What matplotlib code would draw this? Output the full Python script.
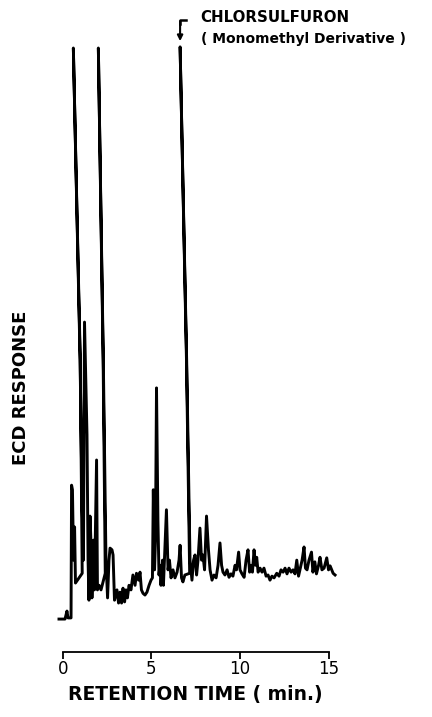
import matplotlib.pyplot as plt

# chromatogram trace (pen-arc slant kept,
# so the big peaks rise and fall along the same leaning stroke)
time_min = [
    -0.21, 0.13, 0.24, 0.30, 0.47, 0.50, 0.55, 0.61, 0.67, 0.72, 1.10,
    0.99, 0.60, 0.98, 1.09, 1.17, 1.23, 1.37, 1.43, 1.48, 1.54, 1.60, 1.65,
    1.74, 1.79, 1.91, 1.96, 2.05, 2.16, 2.40,
    2.28, 2.01, 2.29, 2.44, 2.53, 2.61, 2.67, 2.78, 2.84, 2.92, 3.06, 3.15,
    3.23, 3.32, 3.40, 3.49, 3.57, 3.65, 3.74, 3.85, 3.96, 4.08, 4.16,
    4.28, 4.36, 4.44, 4.53, 4.64, 4.75, 4.87, 4.98, 5.06, 5.11, 5.18,
    5.23, 5.29, 5.37, 5.43, 5.49, 5.54, 5.63, 5.68, 5.77, 5.85, 5.94,
    6.02, 6.11, 6.22, 6.33, 6.45, 6.56, 6.62, 6.70, 6.78, 6.89, 7.16,
    6.98, 6.62, 6.99, 7.18, 7.29, 7.38, 7.46, 7.55, 7.63, 7.74, 7.83, 7.91,
    8.00, 8.11, 8.22, 8.31, 8.42, 8.53, 8.65, 8.76, 8.87, 8.96, 9.04,
    9.15, 9.27, 9.38, 9.49, 9.60, 9.72, 9.80, 9.92, 10.00, 10.11, 10.23,
    10.34, 10.45, 10.54, 10.62, 10.70, 10.79, 10.87, 10.94, 11.02, 11.13,
    11.24, 11.35, 11.47, 11.58, 11.69, 11.80, 11.92, 12.07, 12.20, 12.31,
    12.43, 12.54, 12.65, 12.76, 12.88, 12.99, 13.10, 13.20, 13.30, 13.38,
    13.50, 13.61, 13.69, 13.78, 13.89, 14.03, 14.11, 14.22, 14.31, 14.43,
    14.51, 14.62, 14.74, 14.89, 14.99, 15.08, 15.25, 15.36,
]
response = [
    0.0, 0.0, 1.4, 0.2, 0.2, 23.4, 22.6, 10.3, 16.1, 6.3, 8.0,
    45.3, 99.8, 45.3, 20.8, 10.3, 51.9, 32.2, 10.3, 3.3, 18.0, 12.9, 3.7,
    13.8, 5.1, 27.8, 5.1, 5.9, 5.1, 8.0,
    45.3, 99.8, 45.3, 10.3, 3.7, 10.3, 12.4, 12.1, 11.2, 3.3, 5.1, 2.8,
    4.7, 2.8, 5.4, 3.0, 5.1, 3.7, 5.9, 5.1, 7.7, 5.9, 8.0,
    6.8, 8.2, 5.1, 4.5, 4.2, 4.7, 5.9, 6.8, 7.2, 22.6, 8.6,
    13.8, 40.4, 17.3, 7.7, 9.4, 5.9, 10.3, 5.9, 12.9, 19.1, 8.6,
    10.3, 7.2, 8.6, 7.2, 8.2, 10.3, 12.9, 7.2, 6.5, 7.7, 8.0,
    45.3, 100.0, 45.3, 10.3, 6.8, 10.3, 11.2, 7.7, 10.3, 15.9, 10.3, 11.2,
    8.6, 18.0, 12.1, 8.6, 6.8, 7.7, 7.2, 9.4, 13.3, 9.4, 8.2,
    7.7, 8.6, 7.3, 7.9, 7.5, 9.4, 8.6, 11.7, 8.6, 7.9, 7.3,
    10.3, 12.1, 8.2, 9.4, 8.2, 12.1, 9.4, 10.8, 8.2, 8.9,
    8.2, 8.9, 7.5, 7.7, 6.8, 7.5, 7.2, 8.0, 7.5, 8.6,
    8.2, 8.9, 7.9, 8.9, 8.2, 8.6, 7.9, 10.3, 7.5, 8.6,
    10.3, 12.6, 8.9, 8.6, 10.3, 11.7, 8.2, 10.0, 7.9, 9.4,
    10.8, 8.6, 8.9, 10.7, 8.6, 9.3, 8.0, 7.7,
]
tick_vals = [0, 5, 10, 15]
peak_time = 6.62
peak_top = 100.0

fig = plt.figure(figsize=(4.32, 7.17), dpi=100)
ax = fig.add_axes([0.1041, 0.0911, 0.6978, 0.8531])

ax.plot(time_min, response, color="black", lw=2.1, solid_joinstyle="round")

ax.set_xlim(-1, 16)
ax.set_ylim(-5.7, 101.2)

for s in ["left", "right", "top"]:
    ax.spines[s].set_visible(False)
ax.spines["bottom"].set_bounds(0, 15)
ax.spines["bottom"].set_linewidth(1.3)
ax.set_yticks([])
ax.set_xticks(tick_vals)
ax.set_xticklabels([str(v) for v in tick_vals], fontsize=12)
ax.tick_params(axis="x", length=5, width=1.3, pad=1)

ax.set_xlabel("RETENTION TIME ( min.)", fontsize=13.5, fontweight="bold", labelpad=5)
fig.text(21.5 / 432, 1 - 388 / 717, "ECD RESPONSE", fontsize=13, fontweight="bold",
         rotation=90, ha="center", va="center")

# marker over the chlorsulfuron peak
ax.annotate("", xy=(peak_time, peak_top + 1.0), xytext=(peak_time, peak_top + 4.5),
            arrowprops=dict(arrowstyle="-|>", color="black", lw=1.5,
                            mutation_scale=8, shrinkA=0, shrinkB=0))
ax.plot([peak_time, peak_time, peak_time + 0.35],
        [peak_top + 4.0, peak_top + 4.7, peak_top + 4.7],
        color="black", lw=1.8, clip_on=False)
fig.text(200 / 432, 1 - 18 / 717, "CHLORSULFURON", fontsize=10.8,
         fontweight="bold", va="center", ha="left")
fig.text(201 / 432, 1 - 39 / 717, "( Monomethyl Derivative )", fontsize=10,
         fontweight="bold", va="center", ha="left")

fig.savefig("out.png", dpi=100)
